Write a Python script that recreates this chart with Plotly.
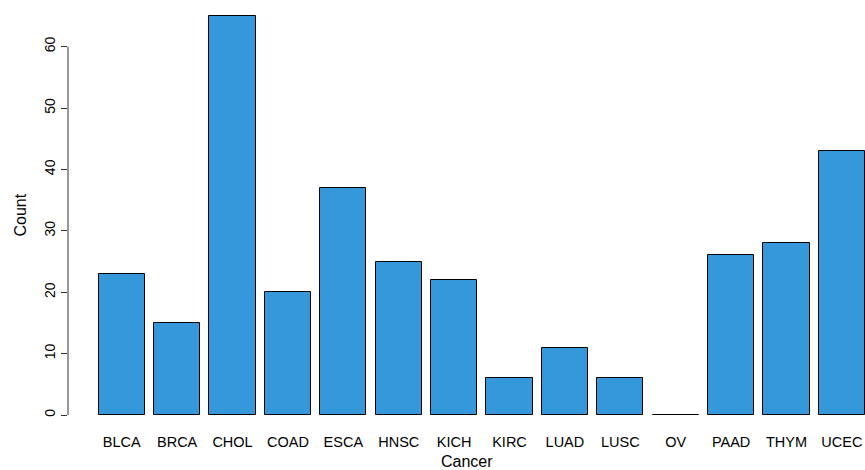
import plotly.graph_objects as go

cancers = ["BLCA", "BRCA", "CHOL", "COAD", "ESCA", "HNSC", "KICH",
           "KIRC", "LUAD", "LUSC", "OV", "PAAD", "THYM", "UCEC"]
counts = [23, 15, 65, 20, 37, 25, 22, 6, 11, 6, 0, 26, 28, 43]
y_ticks = [0, 10, 20, 30, 40, 50, 60]

# bar centres on an R-style layout: width 1, gap 0.2
x_pos = [0.7 + 1.2 * i for i in range(len(cancers))]

FONT = "Liberation Sans, Arial, Helvetica, sans-serif"

fig = go.Figure(
    go.Bar(
        x=x_pos,
        y=counts,
        width=1.0,
        marker=dict(color="#3498DB", line=dict(color="black", width=1)),
    )
)

fig.update_layout(
    width=865,
    height=470,
    margin=dict(l=68, r=0, t=0, b=39),
    plot_bgcolor="white",
    paper_bgcolor="white",
    showlegend=False,
    font=dict(family=FONT, color="black", size=14),
    bargap=0,
)

fig.update_xaxes(
    range=[-0.464, 16.8],
    tickmode="array",
    tickvals=x_pos,
    ticktext=cancers,
    ticks="",
    showline=False,
    showgrid=False,
    zeroline=False,
    automargin=False,
    tickfont=dict(size=14.5),
)

fig.update_yaxes(
    range=[-2.6, 67.6],
    tickmode="array",
    tickvals=y_ticks,
    ticks="outside",
    ticklen=6,
    tickwidth=1,
    tickcolor="#333333",
    tickangle=-90,
    showline=False,
    showgrid=False,
    zeroline=False,
    automargin=False,
    tickfont=dict(size=14),
)

# axis titles
fig.add_annotation(
    text="Cancer", xref="paper", yref="paper", x=0.5, y=0,
    yanchor="middle", yshift=-30, showarrow=False, borderpad=0,
    font=dict(size=16),
)
fig.add_annotation(
    text="Count", xref="paper", yref="paper", x=0, y=0.5,
    xanchor="center", xshift=-48, textangle=-90, showarrow=False,
    borderpad=0, font=dict(size=16),
)

# axis line spanning only the tick range
fig.add_shape(
    type="line", xref="paper", yref="y",
    x0=0, x1=0, y0=y_ticks[0], y1=y_ticks[-1],
    line=dict(color="#333333", width=1),
)

fig.write_html("out.html")
